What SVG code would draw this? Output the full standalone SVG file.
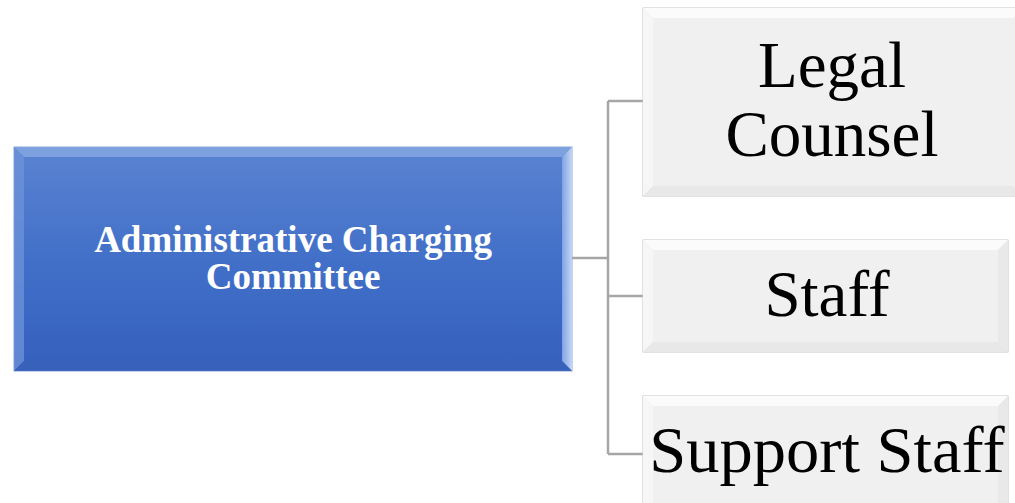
<svg xmlns="http://www.w3.org/2000/svg" width="1015" height="503" viewBox="0 0 1015 503">
<defs>
<linearGradient id="blue" x1="0" y1="0" x2="0" y2="1">
<stop offset="0" stop-color="#5b83d2"/>
<stop offset="0.5" stop-color="#4270c8"/>
<stop offset="1" stop-color="#3560bd"/>
</linearGradient>
<linearGradient id="rbev" x1="0" y1="0" x2="1" y2="0">
<stop offset="0" stop-color="#7ea3e4"/>
<stop offset="1" stop-color="#c4d6f4"/>
</linearGradient>
</defs>
<style>
.conn{fill:none;stroke:#a6a6a6;stroke-width:2.5}
.gbox{fill:#f0f0f0;stroke:#c6c6c6;stroke-width:1}
.gtop{fill:#fbfbfb}
.gleft{fill:#f6f6f6}
.gright{fill:#e9e9e9}
.gbot{fill:#e8e8e8}
.lbl{font-family:"Liberation Serif","Times New Roman",serif;fill:#000;text-anchor:middle}
.main{font-family:"Liberation Serif","Times New Roman",serif;font-weight:bold;font-size:37px;fill:#fff;text-anchor:middle}
</style>
<g id="connectors">
<path class="conn" d="M572,258 H608"/>
<path class="conn" d="M608,101 V454"/>
<path class="conn" d="M608,101 H643"/>
<path class="conn" d="M608,296 H643"/>
<path class="conn" d="M608,454 H643"/>
</g>
<g id="node-main">
<rect x="14" y="147" width="558" height="224" fill="url(#blue)" stroke="#8aa6d8" stroke-width="1"/>
<polygon points="14,147 572,147 562,157 24,157" fill="#86a7e2" opacity="0.8"/>
<polygon points="14,147 24,157 24,361 14,371" fill="#6c91d8" opacity="0.8"/>
<polygon points="572,147 572,371 562,361 562,157" fill="url(#rbev)"/>
<polygon points="14,371 24,361 562,361 572,371" fill="#3a62b8" opacity="0.8"/>
<text class="main" x="293" y="252">Administrative Charging</text>
<text class="main" x="293" y="289">Committee</text>
</g>
<g id="node-legal">
<rect class="gbox" x="643" y="8" width="380" height="188"/>
<polygon class="gtop" points="643,8 1023,8 1013,18 653,18"/>
<polygon class="gleft" points="643,8 653,18 653,186 643,196"/>
<polygon class="gbot" points="643,196 653,186 1013,186 1023,196"/>
<text class="lbl" x="832" y="87" font-size="65">Legal</text>
<text class="lbl" x="832" y="156" font-size="65">Counsel</text>
</g>
<g id="node-staff">
<rect class="gbox" x="643" y="240" width="365" height="112"/>
<polygon class="gtop" points="643,240 1008,240 998,250 653,250"/>
<polygon class="gleft" points="643,240 653,250 653,342 643,352"/>
<polygon class="gright" points="1008,240 1008,352 998,342 998,250"/>
<polygon class="gbot" points="643,352 653,342 998,342 1008,352"/>
<text class="lbl" x="827" y="316" font-size="65">Staff</text>
</g>
<g id="node-support">
<rect class="gbox" x="643" y="396" width="365" height="120"/>
<polygon class="gtop" points="643,396 1008,396 998,406 653,406"/>
<polygon class="gleft" points="643,396 653,406 653,503 643,503"/>
<polygon class="gright" points="1008,396 1008,503 998,503 998,406"/>
<text class="lbl" x="827" y="472" font-size="66.5">Support Staff</text>
</g>
</svg>
